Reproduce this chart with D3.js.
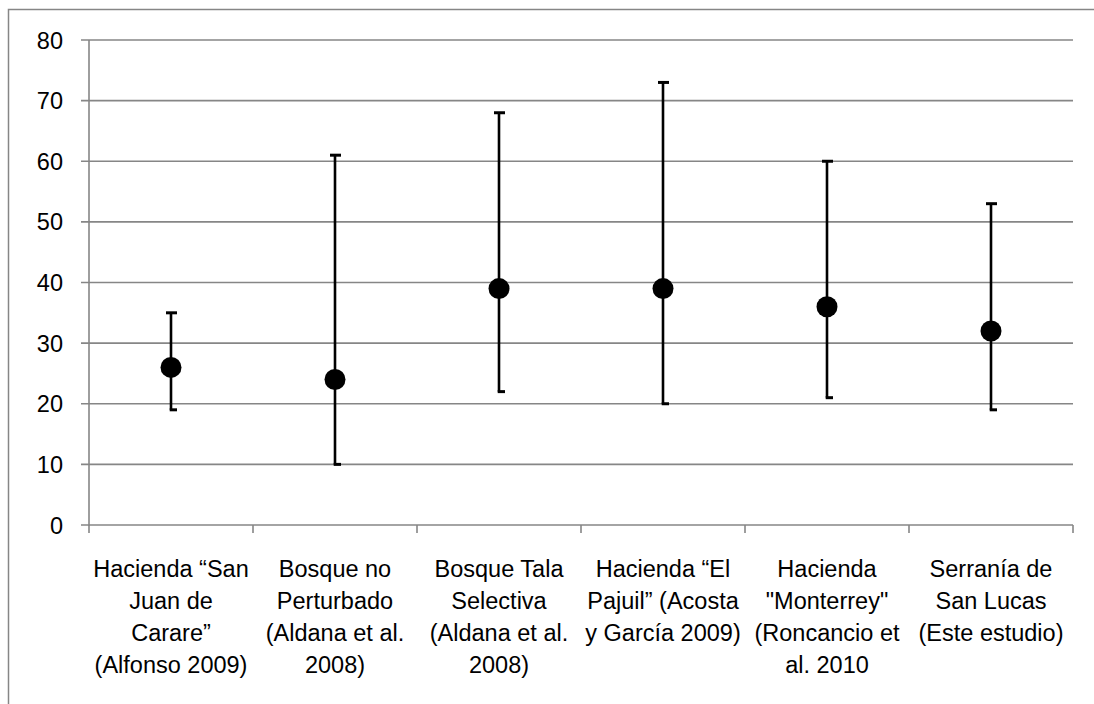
<!DOCTYPE html>
<html>
<head>
<meta charset="utf-8">
<script src="https://cdn.jsdelivr.net/npm/d3@7"></script>
<style>
  html, body { margin: 0; padding: 0; background: #fff; }
  svg { display: block; }
  text { font-family: "Liberation Sans", Arial, sans-serif; fill: #000; }
</style>
</head>
<body>
<svg id="chart" width="1094" height="704"></svg>
<script>
// ---- data ----
const categories = [
  "Hacienda “San Juan de Carare” (Alfonso 2009)",
  "Bosque no Perturbado (Aldana et al. 2008)",
  "Bosque Tala Selectiva (Aldana et al. 2008)",
  "Hacienda “El Pajuil” (Acosta y García 2009)",
  "Hacienda \"Monterrey\" (Roncancio et al. 2010",
  "Serranía de San Lucas (Este estudio)"
];
const categoryLines = [
  ["Hacienda “San", "Juan de", "Carare”", "(Alfonso 2009)"],
  ["Bosque no", "Perturbado", "(Aldana et al.", "2008)"],
  ["Bosque Tala", "Selectiva", "(Aldana et al.", "2008)"],
  ["Hacienda “El", "Pajuil” (Acosta", "y García 2009)"],
  ["Hacienda", "\"Monterrey\"", "(Roncancio et", "al. 2010"],
  ["Serranía de", "San Lucas", "(Este estudio)"]
];
const meanValues = [26, 24, 39, 39, 36, 32];
const upperValues = [35, 61, 68, 73, 60, 53];
const lowerValues = [19, 10, 22, 20, 21, 19];
const yTicks = [0, 10, 20, 30, 40, 50, 60, 70, 80];

// ---- layout ----
const svg = d3.select("#chart");
const mLeft = 89, mRight = 1073, mTop = 40, mBottom = 525;
const grey = "#868686";

const x = d3.scaleBand().domain(categories).range([mLeft, mRight]).padding(0);
const y = d3.scaleLinear().domain([0, 80]).range([mBottom, mTop]);

// chart border
svg.append("rect")
  .attr("x", 8.5).attr("y", 9.5)
  .attr("width", 1110).attr("height", 720)
  .attr("fill", "none").attr("stroke", grey).attr("stroke-width", 1.5);

// gridlines
const g = svg.append("g");
g.selectAll("line.grid").data(yTicks).join("line")
  .attr("class", "grid")
  .attr("x1", mLeft - 8).attr("x2", mRight)
  .attr("y1", d => y(d)).attr("y2", d => y(d))
  .attr("stroke", grey).attr("stroke-width", 1.6);

// y axis line
g.append("line")
  .attr("x1", mLeft).attr("x2", mLeft)
  .attr("y1", mTop).attr("y2", mBottom + 0.8)
  .attr("stroke", grey).attr("stroke-width", 1.6);

// y tick labels via d3 axis (no lines)
const yAxis = d3.axisLeft(y).tickValues(yTicks).tickSize(0).tickPadding(0)
  .tickFormat(d3.format("d"));
const ya = svg.append("g").attr("transform", "translate(63,0)").call(yAxis);
ya.select(".domain").remove();
ya.selectAll("text")
  .attr("font-family", "Liberation Sans, Arial, sans-serif")
  .attr("font-size", 23.5)
  .attr("fill", "#000")
  .attr("dy", "0.34em");

// x axis ticks at band boundaries
const bounds = categories.map(c => x(c)).concat([x(categories[categories.length - 1]) + x.bandwidth()]);
g.selectAll("line.xt").data(bounds).join("line")
  .attr("class", "xt")
  .attr("x1", d => d).attr("x2", d => d)
  .attr("y1", mBottom).attr("y2", mBottom + 8)
  .attr("stroke", grey).attr("stroke-width", 1.6);

// x category labels
const labels = svg.append("g");
categories.forEach((c, i) => {
  const cx = x(c) + x.bandwidth() / 2;
  const t = labels.append("text")
    .attr("text-anchor", "middle")
    .attr("font-size", 23.5);
  categoryLines[i].forEach((ln, j) => {
    t.append("tspan").attr("x", cx).attr("y", 577 + j * 32).text(ln);
  });
});

// error bars + markers
const pts = categories.map((c, i) => ({
  cx: x(c) + x.bandwidth() / 2,
  mean: meanValues[i], hi: upperValues[i], lo: lowerValues[i]
}));
const eb = svg.append("g");
eb.selectAll("line.stem").data(pts).join("line")
  .attr("class", "stem")
  .attr("x1", d => d.cx).attr("x2", d => d.cx)
  .attr("y1", d => y(d.hi)).attr("y2", d => y(d.lo))
  .attr("stroke", "#000").attr("stroke-width", 2.6);
eb.selectAll("line.capHi").data(pts).join("line")
  .attr("class", "capHi")
  .attr("x1", d => d.cx - 5).attr("x2", d => d.cx + 6)
  .attr("y1", d => y(d.hi)).attr("y2", d => y(d.hi))
  .attr("stroke", "#000").attr("stroke-width", 3);
eb.selectAll("line.capLo").data(pts).join("line")
  .attr("class", "capLo")
  .attr("x1", d => d.cx - 1.3).attr("x2", d => d.cx + 6)
  .attr("y1", d => y(d.lo)).attr("y2", d => y(d.lo))
  .attr("stroke", "#000").attr("stroke-width", 3);
eb.selectAll("circle").data(pts).join("circle")
  .attr("cx", d => d.cx).attr("cy", d => y(d.mean))
  .attr("r", 10.5).attr("fill", "#000");
</script>
</body>
</html>
